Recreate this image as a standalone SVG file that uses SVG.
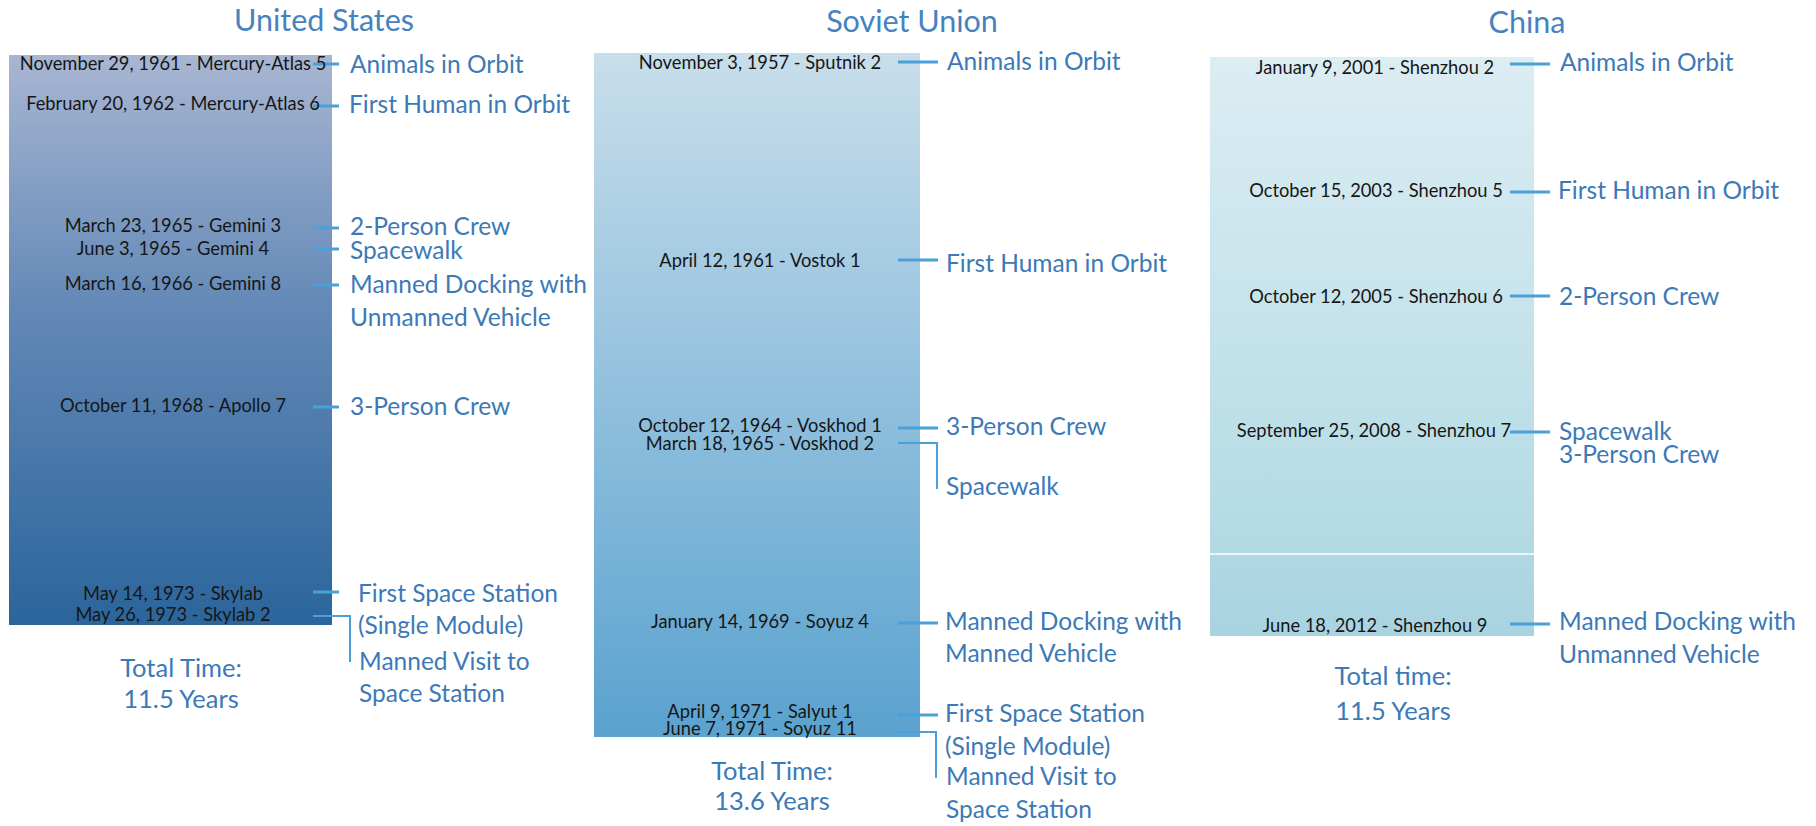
<svg xmlns="http://www.w3.org/2000/svg" width="1816" height="826" viewBox="0 0 1816 826">
<defs>
<linearGradient id="gUS" x1="0" y1="0" x2="0" y2="1">
<stop offset="0" stop-color="#a8b6d2"/>
<stop offset="0.45" stop-color="#6288b6"/>
<stop offset="1" stop-color="#2b659b"/>
</linearGradient>
<linearGradient id="gSU" x1="0" y1="0" x2="0" y2="1">
<stop offset="0" stop-color="#c8deeb"/>
<stop offset="1" stop-color="#5aa2cf"/>
</linearGradient>
<linearGradient id="gCN" x1="0" y1="0" x2="0" y2="1">
<stop offset="0" stop-color="#dcedf3"/>
<stop offset="1" stop-color="#b2dae4"/>
</linearGradient>
<linearGradient id="gCN2" x1="0" y1="0" x2="0" y2="1">
<stop offset="0" stop-color="#b0d8e3"/>
<stop offset="1" stop-color="#a8d3e0"/>
</linearGradient>
<style>
.title{font-family:Lato,"Liberation Sans",sans-serif;font-size:30.5px;fill:#4682c0;text-anchor:middle}
.date{font-family:Lato,"Liberation Sans",sans-serif;font-size:18.3px;fill:#161616;text-anchor:middle}
.lbl{font-family:Lato,"Liberation Sans",sans-serif;font-size:24.5px;fill:#3c79b7}
.tot{font-family:Lato,"Liberation Sans",sans-serif;font-size:25.5px;fill:#3c79b7;text-anchor:middle}
.con{stroke:#4aa0d8;stroke-width:3;fill:none}
.elb{stroke:#4aa0d8;stroke-width:2;fill:none}
</style>
</defs>
<rect width="1816" height="826" fill="#ffffff"/>

<g id="us">
<text class="title" x="324" y="31">United States</text>
<rect x="9" y="55" width="323" height="570" fill="url(#gUS)"/>
<text class="tot" x="181" y="677">Total Time:</text>
<text class="tot" x="181" y="708">11.5 Years</text>
</g>
<g id="su">
<text class="title" x="912" y="32">Soviet Union</text>
<rect x="594" y="53" width="326" height="684" fill="url(#gSU)"/>
<text class="tot" x="772" y="780">Total Time:</text>
<text class="tot" x="772" y="810">13.6 Years</text>
</g>
<g id="cn">
<text class="title" x="1527" y="33">China</text>
<rect x="1210" y="57" width="324" height="497" fill="url(#gCN)"/>
<rect x="1210" y="554" width="324" height="82" fill="url(#gCN2)"/>
<line x1="1210" y1="554" x2="1534" y2="554" stroke="#ffffff" stroke-width="1.5"/>
<text class="tot" x="1393" y="685">Total time:</text>
<text class="tot" x="1393" y="720">11.5 Years</text>
</g>

<g id="connectors">
<line class="con" x1="313" y1="64" x2="339" y2="64"/>
<line class="con" x1="313" y1="106" x2="339" y2="106"/>
<line class="con" x1="313" y1="228" x2="339" y2="228"/>
<line class="con" x1="313" y1="249" x2="339" y2="249"/>
<line class="con" x1="313" y1="285" x2="339" y2="285"/>
<line class="con" x1="313" y1="407" x2="339" y2="407"/>
<line class="con" x1="313" y1="592" x2="339" y2="592"/>
<path class="elb" d="M313,616 H350 V662"/>
<line class="con" x1="898" y1="62" x2="938" y2="62"/>
<line class="con" x1="898" y1="260" x2="938" y2="260"/>
<line class="con" x1="898" y1="428" x2="938" y2="428"/>
<line class="con" x1="898" y1="623" x2="938" y2="623"/>
<line class="con" x1="898" y1="715" x2="938" y2="715"/>
<path class="elb" d="M898,443 H937 V489"/>
<path class="elb" d="M898,732 H936 V778"/>
<line class="con" x1="1510" y1="64" x2="1550" y2="64"/>
<line class="con" x1="1510" y1="192" x2="1550" y2="192"/>
<line class="con" x1="1510" y1="296" x2="1550" y2="296"/>
<line class="con" x1="1510" y1="432" x2="1550" y2="432"/>
<line class="con" x1="1510" y1="624" x2="1550" y2="624"/>
</g>

<g id="us-events">
<text class="date" x="173" y="70">November 29, 1961 - Mercury-Atlas 5</text>
<text class="lbl" x="350" y="73">Animals in Orbit</text>
<text class="date" x="173" y="110">February 20, 1962 - Mercury-Atlas 6</text>
<text class="lbl" x="349" y="113">First Human in Orbit</text>
<text class="date" x="173" y="232">March 23, 1965 - Gemini 3</text>
<text class="lbl" x="350" y="235">2-Person Crew</text>
<text class="date" x="173" y="255">June 3, 1965 - Gemini 4</text>
<text class="lbl" x="350" y="259">Spacewalk</text>
<text class="date" x="173" y="290">March 16, 1966 - Gemini 8</text>
<text class="lbl" x="350" y="293">Manned Docking with</text>
<text class="lbl" x="350" y="326">Unmanned Vehicle</text>
<text class="date" x="173" y="412">October 11, 1968 - Apollo 7</text>
<text class="lbl" x="350" y="415">3-Person Crew</text>
<text class="date" x="173" y="600">May 14, 1973 - Skylab</text>
<text class="lbl" x="358" y="602">First Space Station</text>
<text class="lbl" x="358" y="634">(Single Module)</text>
<text class="date" x="173" y="621">May 26, 1973 - Skylab 2</text>
<text class="lbl" x="359" y="670">Manned Visit to</text>
<text class="lbl" x="359" y="702">Space Station</text>
</g>

<g id="su-events">
<text class="date" x="760" y="69">November 3, 1957 - Sputnik 2</text>
<text class="lbl" x="947" y="70">Animals in Orbit</text>
<text class="date" x="760" y="267">April 12, 1961 - Vostok 1</text>
<text class="lbl" x="946" y="272">First Human in Orbit</text>
<text class="date" x="760" y="432">October 12, 1964 - Voskhod 1</text>
<text class="lbl" x="946" y="435">3-Person Crew</text>
<text class="date" x="760" y="450">March 18, 1965 - Voskhod 2</text>
<text class="lbl" x="946" y="495">Spacewalk</text>
<text class="date" x="760" y="628">January 14, 1969 - Soyuz 4</text>
<text class="lbl" x="945" y="630">Manned Docking with</text>
<text class="lbl" x="945" y="662">Manned Vehicle</text>
<text class="date" x="760" y="718">April 9, 1971 - Salyut 1</text>
<text class="lbl" x="945" y="722">First Space Station</text>
<text class="lbl" x="945" y="755">(Single Module)</text>
<text class="date" x="760" y="735">June 7, 1971 - Soyuz 11</text>
<text class="lbl" x="946" y="785">Manned Visit to</text>
<text class="lbl" x="946" y="818">Space Station</text>
</g>

<g id="cn-events">
<text class="date" x="1375" y="74">January 9, 2001 - Shenzhou 2</text>
<text class="lbl" x="1560" y="71">Animals in Orbit</text>
<text class="date" x="1376" y="197">October 15, 2003 - Shenzhou 5</text>
<text class="lbl" x="1558" y="199">First Human in Orbit</text>
<text class="date" x="1376" y="303">October 12, 2005 - Shenzhou 6</text>
<text class="lbl" x="1559" y="305">2-Person Crew</text>
<text class="date" x="1374" y="437">September 25, 2008 - Shenzhou 7</text>
<text class="lbl" x="1559" y="440">Spacewalk</text>
<text class="lbl" x="1559" y="463">3-Person Crew</text>
<text class="date" x="1375" y="632">June 18, 2012 - Shenzhou 9</text>
<text class="lbl" x="1559" y="630">Manned Docking with</text>
<text class="lbl" x="1559" y="663">Unmanned Vehicle</text>
</g>
</svg>
